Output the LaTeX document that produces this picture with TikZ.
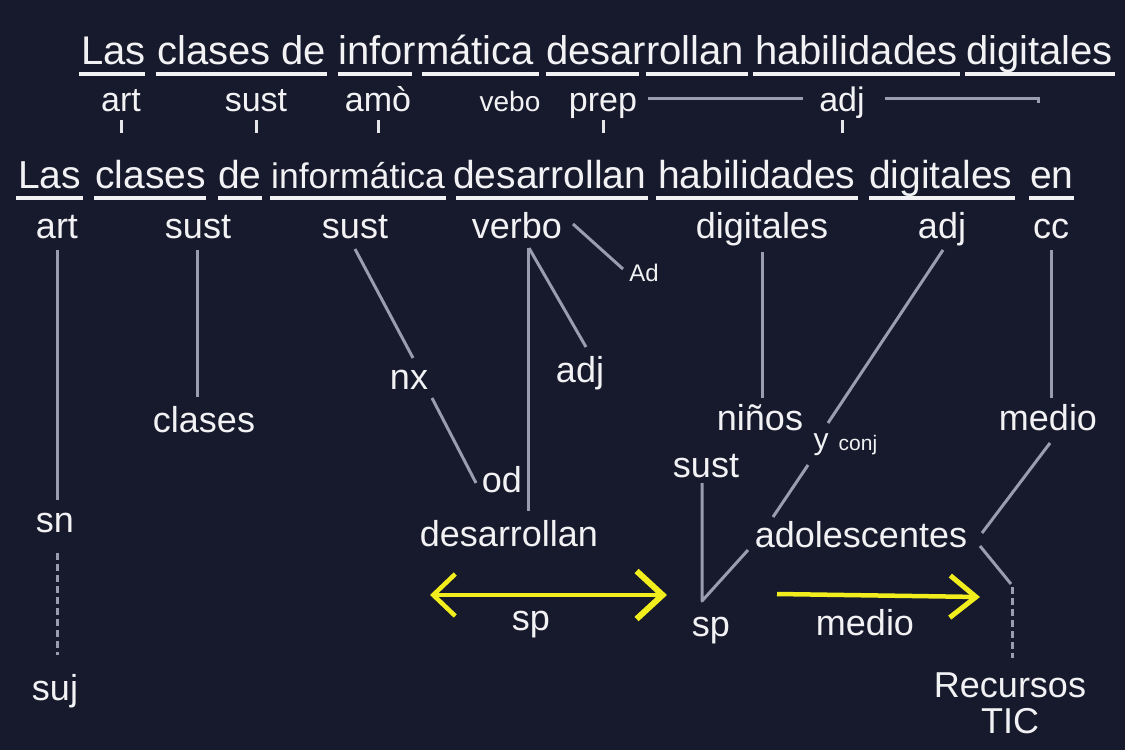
\documentclass[tikz,border=0pt]{standalone}
\usepackage{fontspec}
\setmainfont{Liberation Sans}
\usetikzlibrary{arrows.meta}
\definecolor{bg}{HTML}{161A2C}
\definecolor{txt}{HTML}{F2F2F4}
\definecolor{ln}{HTML}{9A9CB0}
\definecolor{yel}{HTML}{F2EE1E}
\tikzset{
 wa/.style={anchor=base west, inner sep=0, text=txt, font=\fontsize{40}{40}\selectfont},
 wb/.style={anchor=base west, inner sep=0, text=txt, font=\fontsize{39}{39}\selectfont},
 lab/.style={anchor=base, inner sep=0, text=txt, font=\fontsize{36}{36}\selectfont},
 laba/.style={anchor=base, inner sep=0, text=txt, font=\fontsize{34}{34}\selectfont},
 smalllab/.style={anchor=base, inner sep=0, text=txt, font=\fontsize{24}{24}\selectfont},
 uline/.style={draw=txt, line width=3.5pt},
 conn/.style={draw=ln, line width=3pt},
 tickline/.style={draw=txt!85!ln, line width=3pt},
 dsh/.style={draw=ln, line width=3pt, dash pattern=on 7pt off 4pt},
 yarrow/.style={draw=yel, line width=4.5pt},
}
\begin{document}
\begin{tikzpicture}[x=1pt,y=-1pt]
\fill[bg] (0,0) rectangle (1125,750);
\useasboundingbox (0,0) rectangle (1125,750);

% ---------- row 1 ----------
\node[wa] (a1) at (81,64) {Las};
\node[wa] (a2) at (157,64) {clases de};
\node[wa] (a3) at (338,64) {informática};
\node[wa] (a4) at (546,64) {desarrollan};
\node[wa] (a5) at (755,64) {habilidades};
\node[wa] (a6) at (966,64) {digitales};
\foreach \p/\q in {79/145,156/327,338/412,422/539,546/639,646/748,753/960,965/1115}
  \draw[uline] (\p,74) -- (\q,74);

\node[laba] (b1) at (121,111) {art};
\node[laba] (b2) at (256,111) {sust};
\node[laba] (b3) at (378,111) {amò};
\node[anchor=base, inner sep=0, text=txt, font=\fontsize{28}{28}\selectfont] (b4) at (510,111) {vebo};
\node[laba] (b5) at (603,111) {prep};
\node[laba] (b6) at (842,111) {adj};
\coordinate (pl1) at (648,98); \coordinate (pl2) at (803,98);
\coordinate (pr1) at (885,98); \coordinate (pr2) at (1038,98); \coordinate (pr3) at (1038,103);
\draw[conn] (pl1) -- (pl2);
\draw[conn] (pr1) -- (pr2) -- (pr3);
\foreach \x in {121,256,378,603,842}
  \draw[tickline] (\x,120) -- (\x,133);

% ---------- row 2 ----------
\node[wb] (c1) at (18,188) {Las};
\node[wb] (c2) at (95,188) {clases};
\node[wb] (c3) at (218,188) {de};
\node[anchor=base west, inner sep=0, text=txt, font=\fontsize{35.5}{35.5}\selectfont] (c4) at (271,188) {informática};
\node[wb] (c5) at (453,188) {desarrollan};
\node[wb] (c6) at (658,188) {habilidades};
\node[wb] (c7) at (869,188) {digitales};
\node[wb] (c8) at (1030,188) {en};
\foreach \p/\q in {16/83,94/206,218/262,270/446,456/648,656/858,869/1015,1029/1074}
  \draw[uline] (\p,198) -- (\q,198);

\node[lab] (d1) at (57,238) {art};
\node[lab] (d2) at (198,238) {sust};
\node[lab] (d3) at (355,238) {sust};
\node[lab] (d4) at (517,238) {verbo};
\node[lab] (d5) at (762,238) {digitales};
\node[lab] (d6) at (942,238) {adj};
\node[lab] (d7) at (1051,238) {cc};

% ---------- lower nodes ----------
\node[smalllab] (ad) at (644,281) {Ad};
\node[lab] (nx) at (409,389) {nx};
\node[lab] (adj2) at (580,382) {adj};
\node[lab] (clases) at (204,432) {clases};
\node[lab] (ninos) at (760,430) {niños};
\node[lab] (medio1) at (1048,430) {medio};
\node[anchor=base, inner sep=0, text=txt, font=\fontsize{30}{30}\selectfont] (yy) at (821,449) {y};
\node[anchor=base, inner sep=0, text=txt, font=\fontsize{21}{21}\selectfont] (conj) at (858,450) {conj};
\node[lab] (sust3) at (706,477) {sust};
\node[lab] (od) at (502,492) {od};
\node[lab] (sn) at (55,532) {sn};
\node[lab] (desa) at (509,546) {desarrollan};
\node[lab] (adol) at (861,547) {adolescentes};
\node[lab] (sp1) at (531,630) {sp};
\node[lab] (sp2) at (711,636) {sp};
\node[lab] (medio2) at (865,635) {medio};
\node[lab] (suj) at (55,700) {suj};
\node[lab] (rec) at (1010,697) {Recursos};
\node[lab] (tic) at (1010,733) {TIC};

% ---------- connector end points ----------
\coordinate (e1a) at (57,250);  \coordinate (e1b) at (57,500);
\coordinate (e2a) at (197,250); \coordinate (e2b) at (197,397);
\coordinate (e3a) at (355,249); \coordinate (e3b) at (413,358);
\coordinate (e3c) at (432,398); \coordinate (e3d) at (476,483);
\coordinate (e4a) at (528,248); \coordinate (e4b) at (528,511);
\coordinate (e5a) at (529,248); \coordinate (e5b) at (586,347);
\coordinate (e6a) at (573,224); \coordinate (e6b) at (623,269);
\coordinate (e7a) at (762,252); \coordinate (e7b) at (762,398);
\coordinate (e8a) at (943,250); \coordinate (e8b) at (828,423);
\coordinate (e9a) at (808,465); \coordinate (e9b) at (773,517);
\coordinate (e10a) at (1051,250); \coordinate (e10b) at (1051,398);
\coordinate (e11a) at (1050,443); \coordinate (e11b) at (982,533);
\coordinate (e12a) at (980,546); \coordinate (e12b) at (1011,584);
\coordinate (e13a) at (1012,587); \coordinate (e13b) at (1012,658);
\coordinate (e14a) at (702,483); \coordinate (e14b) at (702,601); \coordinate (e14c) at (748,550);
\coordinate (e15a) at (57,553); \coordinate (e15b) at (57,655);

\draw[conn] (e1a) -- (e1b);
\draw[conn] (e2a) -- (e2b);
\draw[conn] (e3a) -- (e3b);
\draw[conn] (e3c) -- (e3d);
\draw[conn] (e4a) -- (e4b);
\draw[conn] (e5a) -- (e5b);
\draw[conn] (e6a) -- (e6b);
\draw[conn] (e7a) -- (e7b);
\draw[conn] (e8a) -- (e8b);
\draw[conn] (e9a) -- (e9b);
\draw[conn] (e10a) -- (e10b);
\draw[conn] (e11a) -- (e11b);
\draw[conn] (e12a) -- (e12b);
\draw[dsh] (e13a) -- (e13b);
\draw[conn, line join=round] (e14a) -- (e14b) -- (e14c);
\draw[dsh] (e15a) -- (e15b);

% ---------- yellow arrows ----------
\coordinate (ya1) at (430,595); \coordinate (ya2) at (667,595);
\coordinate (yb1) at (777,594); \coordinate (yb2) at (980,597);
\draw[yarrow, {Straight Barb[length=22pt,width=42pt,line width=4.5pt]}-{Straight Barb[length=26pt,width=48pt,line width=6pt]}] (ya1) -- (ya2);
\draw[yarrow, -{Straight Barb[length=26pt,width=42pt,line width=5pt]}] (yb1) -- (yb2);
\end{tikzpicture}
\end{document}
